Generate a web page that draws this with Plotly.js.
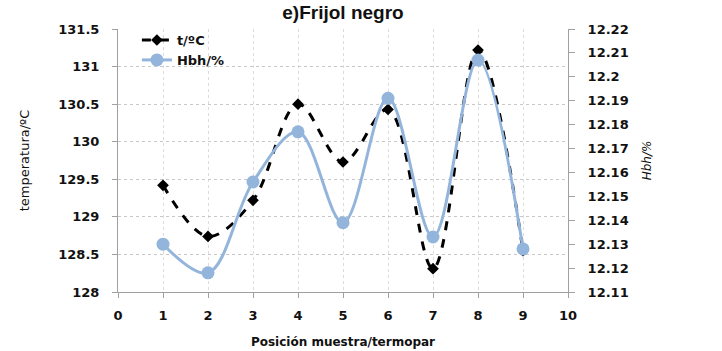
<!DOCTYPE html>
<html><head><meta charset="utf-8">
<script src="https://cdn.plot.ly/plotly-3.0.1.min.js"></script>
<style>html,body{margin:0;padding:0;background:#fff}#c{width:722px;height:351px}</style>
</head><body><div id="c"></div>
<script>
const positions = [1,2,3,4,5,6,7,8,9];
const tempC = [129.42,128.74,129.22,130.50,129.73,130.43,128.31,131.22,128.55];
const hbh = [12.130,12.118,12.156,12.177,12.139,12.191,12.133,12.207,12.128];
const leftTicks = [128,128.5,129,129.5,130,130.5,131,131.5];
const rightTicks = [12.11,12.12,12.13,12.14,12.15,12.16,12.17,12.18,12.19,12.2,12.21,12.22];

const tickFont = {family:'DejaVu Sans', size:13, color:'#111', weight:'bold'};
const traces = [
 {x:positions, y:tempC, name:'t/ºC', mode:'lines+markers', yaxis:'y',
  line:{color:'#000', width:3, dash:'dash', shape:'spline', smoothing:1},
  marker:{symbol:'diamond', size:9, color:'#000'}},
 {x:positions, y:hbh, name:'Hbh/%', mode:'lines+markers', yaxis:'y2',
  line:{color:'#93B5DC', width:3, shape:'spline', smoothing:1},
  marker:{symbol:'circle', size:13, color:'#93B5DC'}}
];
const layout = {
 width:722, height:351,
 margin:{l:118, r:154, t:29, b:59},
 paper_bgcolor:'#fff', plot_bgcolor:'#fff',
 showlegend:true,
 legend:{x:0.042, y:1.015, xanchor:'left', yanchor:'top', bgcolor:'rgba(0,0,0,0)',
   font:{family:'DejaVu Sans', size:13, color:'#111', weight:'bold'}, tracegroupgap:0},
 title:{text:'<b>e)Frijol negro</b>', x:0.5, xref:'paper', xanchor:'center', y:0.985, yanchor:'top',
   font:{family:'Liberation Sans', size:19, color:'#111'}},
 xaxis:{range:[0,10], tickvals:[0,1,2,3,4,5,6,7,8,9,10], ticktext:['0','1','2','3','4','5','6','7','8','9','10'],
   showgrid:true, gridcolor:'#dcdcdc', griddash:'dot', gridwidth:1,
   showline:true, linecolor:'#a0a0a0', linewidth:1, ticks:'outside', ticklen:5, tickcolor:'#a0a0a0',
   ticklabelstandoff:6,
   zeroline:false, tickfont:tickFont,
   title:{text:'<b>Posición muestra/termopar</b>', font:{family:'DejaVu Sans', size:12, color:'#111'}, standoff:16}},
 yaxis:{range:[128,131.5], tickvals:leftTicks, ticktext:leftTicks.map(v=>String(v)),
   showgrid:true, gridcolor:'#c8c8c8', griddash:'dot', gridwidth:1,
   showline:true, linecolor:'#a0a0a0', linewidth:1, ticks:'outside', ticklen:5, tickcolor:'#a0a0a0',
   ticklabelstandoff:10,
   zeroline:false, tickfont:tickFont,
   title:{text:'temperatura/ºC', font:{family:'DejaVu Sans', size:13, color:'#111'}, standoff:25}},
 yaxis2:{overlaying:'y', side:'right', range:[12.11,12.22], tickvals:rightTicks, ticktext:rightTicks.map(v=>String(v)),
   showgrid:false, showline:true, linecolor:'#a0a0a0', linewidth:1, ticks:'outside', ticklen:6, tickcolor:'#a0a0a0',
   ticklabelstandoff:10,
   zeroline:false, tickfont:tickFont,
   title:{text:'<i>Hbh/%</i>', font:{family:'DejaVu Sans', size:12, color:'#111'}, standoff:14}}
};
Plotly.newPlot('c', traces, layout, {displayModeBar:false, staticPlot:true});
</script></body></html>
